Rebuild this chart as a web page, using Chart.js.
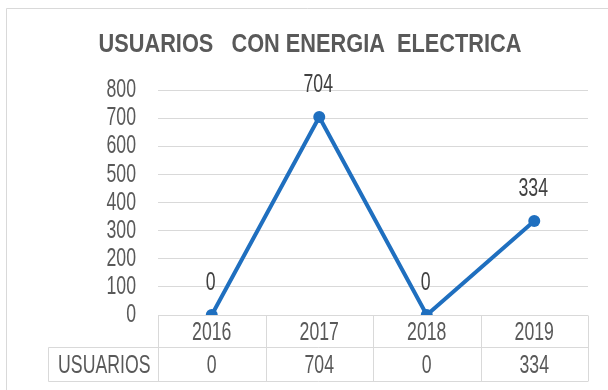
<!DOCTYPE html>
<html>
<head>
<meta charset="utf-8">
<script src="https://cdn.jsdelivr.net/npm/chart.js@4.4.0/dist/chart.umd.min.js"></script>
<style>
  html, body { margin: 0; padding: 0; background: #fff; }
</style>
</head>
<body>
<canvas id="usuariosChart" width="608" height="390"></canvas>
<script>
const years = ['2016', '2017', '2018', '2019'];
const usuarios = [0, 704, 0, 334];
const seriesName = 'USUARIOS';
const chartTitle = 'USUARIOS   CON ENERGIA  ELECTRICA';

const fontFamily = "'Liberation Sans', Arial, sans-serif";
const textGray = '#595959';
const lineGray = '#d9d9d9';
const blue = '#1f6fbf';

// narrow text: squeeze the glyphs horizontally around the anchor point
function narrowText(c, text, x, y, font, sx, align) {
    c.save();
    c.translate(x, y);
    c.scale(sx, 1);
    c.font = font;
    c.textAlign = align || 'center';
    c.textBaseline = 'middle';
    c.fillText(text, 0, 0);
    c.restore();
}

const plainFont = '26px ' + fontFamily;
const plainSx = 0.68;

// outer frame, title and y tick labels
const framePlugin = {
    id: 'frame',
    beforeDraw(chart) {
        const c = chart.ctx;
        c.save();
        c.fillStyle = '#fff';
        c.fillRect(0, 0, chart.width, chart.height);
        c.strokeStyle = lineGray;
        c.lineWidth = 1;
        c.beginPath();
        c.moveTo(6.5, chart.height);
        c.lineTo(6.5, 8.5);
        c.lineTo(chart.width, 8.5);
        c.stroke();
        c.fillStyle = textGray;
        narrowText(c, chartTitle, 310, 45, 'bold 25px ' + fontFamily, 0.87);
        const y = chart.scales.y;
        y.ticks.forEach(t => {
            narrowText(c, String(t.value), 136, y.getPixelForValue(t.value), plainFont, plainSx, 'right');
        });
        c.restore();
    }
};

// data table under the plot
const tablePlugin = {
    id: 'dataTable',
    beforeDatasetsDraw(chart) {
        const c = chart.ctx;
        const area = chart.chartArea;
        const x = chart.scales.x;
        const colW = (area.right - area.left) / years.length;
        const top = Math.round(area.bottom) + 0.5;
        const mid = top + 32;
        const bottom = top + 66;
        const labelLeft = 48.5;
        c.save();
        c.strokeStyle = lineGray;
        c.lineWidth = 1;
        c.beginPath();
        c.moveTo(area.left, top); c.lineTo(area.right, top);
        c.moveTo(labelLeft, mid); c.lineTo(area.right, mid);
        c.moveTo(labelLeft, bottom); c.lineTo(area.right, bottom);
        c.moveTo(labelLeft, mid); c.lineTo(labelLeft, bottom);
        for (let i = 0; i <= years.length; i++) {
            const vx = Math.round(area.left + i * colW) + 0.5;
            c.moveTo(vx, top); c.lineTo(vx, bottom);
        }
        c.stroke();
        c.fillStyle = textGray;
        years.forEach((yr, i) => {
            const cx = x.getPixelForValue(i);
            narrowText(c, yr, cx, (top + mid) / 2 + 1, plainFont, plainSx);
            narrowText(c, String(usuarios[i]), cx, (mid + bottom) / 2 + 1, plainFont, plainSx);
        });
        narrowText(c, seriesName, (labelLeft + area.left) / 2 + 1, (mid + bottom) / 2 + 1, plainFont, plainSx);
        c.restore();
    }
};

// value labels above the points
const valueLabels = {
    id: 'valueLabels',
    afterDatasetsDraw(chart) {
        const c = chart.ctx;
        const meta = chart.getDatasetMeta(0);
        c.save();
        c.fillStyle = '#404040';
        meta.data.forEach((pt, i) => {
            narrowText(c, String(usuarios[i]), pt.x - 1, pt.y - 32, plainFont, plainSx);
        });
        c.restore();
    }
};

new Chart(document.getElementById('usuariosChart'), {
    type: 'line',
    data: {
        labels: years,
        datasets: [{
            label: seriesName,
            data: usuarios,
            borderColor: blue,
            backgroundColor: blue,
            borderWidth: 4,
            pointRadius: 6,
            pointBackgroundColor: blue,
            pointBorderColor: blue,
            pointBorderWidth: 0,
            tension: 0
        }]
    },
    options: {
        responsive: false,
        animation: false,
        devicePixelRatio: 1,
        layout: { padding: { top: 90, right: 20, bottom: 75, left: 0 } },
        plugins: {
            legend: { display: false },
            title: { display: false },
            tooltip: { enabled: false }
        },
        scales: {
            x: { type: 'category', offset: true, display: false },
            y: {
                min: 0,
                max: 800,
                ticks: { stepSize: 100, display: false },
                grid: { color: lineGray, drawTicks: false },
                border: { display: false },
                afterFit(scale) { scale.width = 158; }
            }
        }
    },
    plugins: [framePlugin, tablePlugin, valueLabels]
});
</script>
</body>
</html>
